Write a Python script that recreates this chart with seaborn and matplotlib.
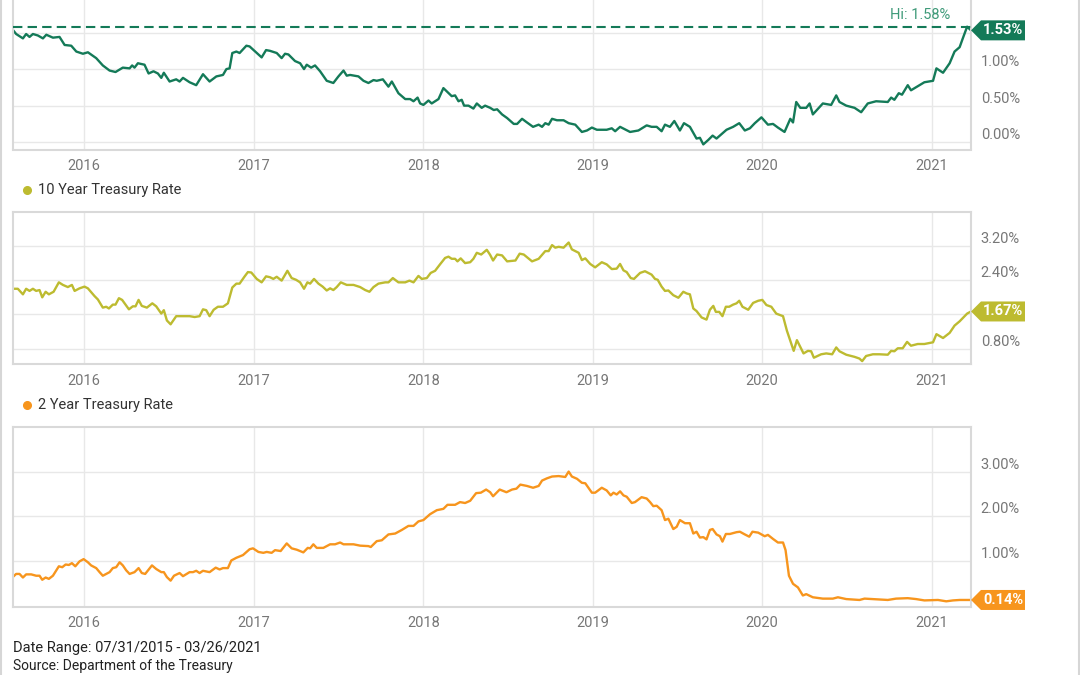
import matplotlib
matplotlib.use("Agg")
import matplotlib.pyplot as plt
import matplotlib.dates as mdates
import matplotlib.patches as mpatches
import matplotlib.lines as mlines
import seaborn as sns
import pandas as pd

# 10-2 year spread (decimal year, %)
spread_t = [2015.581, 2015.598, 2015.638, 2015.657, 2015.677, 2015.697, 2015.726, 2015.756, 2015.776, 2015.815,
            2015.854, 2015.884, 2015.923, 2015.953, 2015.992, 2016.022, 2016.071, 2016.110, 2016.150, 2016.185,
            2016.228, 2016.268, 2016.283, 2016.297, 2016.317, 2016.356, 2016.380, 2016.409, 2016.435, 2016.455,
            2016.470, 2016.504, 2016.543, 2016.563, 2016.583, 2016.622, 2016.661, 2016.701, 2016.740, 2016.780,
            2016.819, 2016.839, 2016.858, 2016.874, 2016.898, 2016.917, 2016.957, 2016.976, 2017.016, 2017.045,
            2017.071, 2017.094, 2017.134, 2017.163, 2017.183, 2017.203, 2017.242, 2017.272, 2017.295, 2017.311,
            2017.337, 2017.360, 2017.390, 2017.429, 2017.468, 2017.498, 2017.528, 2017.547, 2017.567, 2017.616,
            2017.646, 2017.675, 2017.705, 2017.724, 2017.760, 2017.793, 2017.813, 2017.852, 2017.892, 2017.921,
            2017.941, 2017.965, 2017.980, 2018.000, 2018.030, 2018.049, 2018.089, 2018.118, 2018.167, 2018.187,
            2018.207, 2018.226, 2018.240, 2018.266, 2018.295, 2018.315, 2018.344, 2018.364, 2018.394,
            2018.415, 2018.435, 2018.464, 2018.494, 2018.533, 2018.553, 2018.582, 2018.611, 2018.647, 2018.680,
            2018.700, 2018.719, 2018.739, 2018.759, 2018.788, 2018.827, 2018.857, 2018.896, 2018.935, 2018.965,
            2018.994, 2019.024, 2019.082, 2019.112, 2019.132, 2019.161, 2019.220, 2019.269, 2019.318, 2019.347,
            2019.377, 2019.406, 2019.426, 2019.455, 2019.481, 2019.514, 2019.538, 2019.573, 2019.612, 2019.632,
            2019.652, 2019.681, 2019.707, 2019.730, 2019.789, 2019.828, 2019.864, 2019.897, 2019.927, 2019.956,
            2019.995, 2020.034, 2020.064, 2020.093, 2020.132, 2020.166, 2020.182, 2020.201, 2020.225, 2020.260,
            2020.280, 2020.299, 2020.358, 2020.407, 2020.437, 2020.456, 2020.496, 2020.545, 2020.584, 2020.623,
            2020.672, 2020.741, 2020.761, 2020.780, 2020.806, 2020.825, 2020.859, 2020.878, 2020.957, 2021.006,
            2021.026, 2021.065, 2021.104, 2021.133, 2021.163, 2021.180, 2021.207, 2021.230]
spread_v = [1.53, 1.48, 1.42, 1.48, 1.44, 1.48, 1.46, 1.42, 1.47, 1.43,
            1.44, 1.33, 1.32, 1.24, 1.21, 1.23, 1.15, 1.05, 0.98, 0.96,
            1.02, 1.01, 1.05, 1.02, 1.08, 1.06, 0.94, 0.97, 0.94, 0.88,
            0.95, 0.83, 0.86, 0.83, 0.88, 0.82, 0.78, 0.93, 0.83, 0.90,
            0.92, 1.00, 1.01, 1.22, 1.24, 1.22, 1.32, 1.31, 1.22, 1.16,
            1.26, 1.25, 1.22, 1.15, 1.21, 1.20, 1.11, 1.08, 1.00, 1.06,
            1.02, 1.05, 0.97, 0.84, 0.81, 0.90, 0.98, 0.91, 0.92, 0.90,
            0.84, 0.81, 0.85, 0.84, 0.86, 0.76, 0.83, 0.67, 0.59, 0.59,
            0.56, 0.61, 0.53, 0.51, 0.57, 0.53, 0.59, 0.74, 0.63, 0.64,
            0.56, 0.58, 0.50, 0.50, 0.46, 0.53, 0.47, 0.50, 0.47,
            0.44, 0.45, 0.38, 0.33, 0.25, 0.25, 0.32, 0.27, 0.21, 0.24,
            0.21, 0.26, 0.24, 0.32, 0.30, 0.30, 0.26, 0.24, 0.14, 0.16,
            0.20, 0.17, 0.17, 0.19, 0.15, 0.21, 0.14, 0.16, 0.23, 0.21,
            0.21, 0.15, 0.24, 0.21, 0.29, 0.16, 0.26, 0.21, 0.05, 0.06,
            -0.03, 0.03, 0.09, 0.05, 0.17, 0.21, 0.26, 0.16, 0.19, 0.26,
            0.34, 0.24, 0.25, 0.20, 0.14, 0.32, 0.27, 0.55, 0.47, 0.47,
            0.53, 0.38, 0.53, 0.51, 0.64, 0.55, 0.50, 0.47, 0.41, 0.53,
            0.56, 0.55, 0.61, 0.58, 0.67, 0.65, 0.78, 0.71, 0.82, 0.84,
            1.01, 0.95, 1.08, 1.24, 1.30, 1.41, 1.58, 1.53]

# 10 year treasury rate
ten_t = [2015.581, 2015.608, 2015.638, 2015.657, 2015.677, 2015.697, 2015.716, 2015.736, 2015.752, 2015.772,
         2015.791, 2015.819, 2015.850, 2015.874, 2015.903, 2015.927, 2015.943, 2015.972, 2016.002, 2016.022,
         2016.061, 2016.081, 2016.110, 2016.130, 2016.146, 2016.169, 2016.185, 2016.205, 2016.224, 2016.264,
         2016.287, 2016.303, 2016.321, 2016.340, 2016.370, 2016.402, 2016.425, 2016.455, 2016.470, 2016.488,
         2016.510, 2016.543, 2016.583, 2016.622, 2016.652, 2016.681, 2016.701, 2016.720, 2016.740, 2016.764,
         2016.789, 2016.819, 2016.848, 2016.874, 2016.898, 2016.917, 2016.947, 2016.966, 2016.986, 2017.016,
         2017.045, 2017.071, 2017.094, 2017.114, 2017.134, 2017.163, 2017.197, 2017.222, 2017.248, 2017.272,
         2017.295, 2017.315, 2017.331, 2017.354, 2017.380, 2017.405, 2017.429, 2017.449, 2017.468, 2017.488,
         2017.512, 2017.547, 2017.587, 2017.626, 2017.656, 2017.681, 2017.705, 2017.734, 2017.774, 2017.793,
         2017.819, 2017.852, 2017.892, 2017.917, 2017.941, 2017.970, 2017.990, 2018.020, 2018.043, 2018.069,
         2018.098, 2018.128, 2018.148, 2018.167, 2018.187, 2018.201, 2018.220, 2018.246, 2018.276, 2018.295,
         2018.315, 2018.341, 2018.374, 2018.394,
         2018.411, 2018.435, 2018.464, 2018.494, 2018.543, 2018.568, 2018.592, 2018.641, 2018.680, 2018.719,
         2018.739, 2018.759, 2018.778, 2018.798, 2018.827, 2018.857, 2018.876, 2018.916, 2018.935, 2018.955,
         2018.984, 2019.014, 2019.053, 2019.082, 2019.112, 2019.141, 2019.161, 2019.181, 2019.200, 2019.224,
         2019.243, 2019.279, 2019.308, 2019.347, 2019.367, 2019.383, 2019.406, 2019.426, 2019.446, 2019.475,
         2019.505, 2019.534, 2019.554, 2019.573, 2019.593, 2019.612, 2019.642, 2019.671, 2019.691, 2019.711,
         2019.726, 2019.746, 2019.765, 2019.785, 2019.805, 2019.828, 2019.848, 2019.864, 2019.883, 2019.917,
         2019.946, 2019.976, 2020.001, 2020.025, 2020.054, 2020.083, 2020.123, 2020.146, 2020.186, 2020.205,
         2020.244, 2020.270, 2020.289, 2020.305, 2020.348, 2020.378, 2020.413, 2020.437, 2020.456, 2020.496,
         2020.545, 2020.574, 2020.590, 2020.613, 2020.653, 2020.692, 2020.741, 2020.761, 2020.780, 2020.800,
         2020.829, 2020.855, 2020.878, 2020.918, 2020.957, 2021.006, 2021.026, 2021.065, 2021.104, 2021.133,
         2021.163, 2021.180, 2021.207, 2021.230]
ten_v = [2.20, 2.20, 2.07, 2.20, 2.15, 2.20, 2.15, 2.17, 2.00, 2.13,
         2.07, 2.13, 2.35, 2.29, 2.24, 2.29, 2.15, 2.21, 2.25, 2.21,
         2.03, 1.95, 1.76, 1.78, 1.74, 1.83, 1.83, 1.98, 1.94, 1.72,
         1.79, 1.79, 1.94, 1.80, 1.76, 1.86, 1.79, 1.62, 1.70, 1.46,
         1.37, 1.56, 1.56, 1.56, 1.54, 1.56, 1.72, 1.70, 1.56, 1.71,
         1.78, 1.78, 1.86, 2.23, 2.32, 2.32, 2.49, 2.59, 2.58, 2.43,
         2.35, 2.49, 2.47, 2.43, 2.48, 2.39, 2.62, 2.45, 2.41, 2.35,
         2.20, 2.35, 2.32, 2.43, 2.32, 2.25, 2.16, 2.21, 2.17, 2.24,
         2.35, 2.29, 2.29, 2.24, 2.17, 2.13, 2.24, 2.32, 2.35, 2.35,
         2.45, 2.35, 2.35, 2.39, 2.35, 2.50, 2.43, 2.45, 2.57, 2.62,
         2.77, 2.92, 2.95, 2.90, 2.90, 2.84, 2.91, 2.80, 2.82, 2.90,
         3.04, 3.00, 3.11, 2.99,
         2.86, 3.00, 2.98, 2.84, 2.86, 3.02, 3.00, 2.84, 2.90, 3.08,
         3.08, 3.22, 3.16, 3.18, 3.16, 3.28, 3.12, 3.04, 2.87, 2.91,
         2.78, 2.70, 2.82, 2.77, 2.66, 2.67, 2.78, 2.63, 2.59, 2.45,
         2.43, 2.57, 2.61, 2.53, 2.43, 2.41, 2.25, 2.15, 2.16, 2.05,
         1.99, 2.13, 2.09, 2.07, 1.74, 1.68, 1.53, 1.48, 1.71, 1.80,
         1.66, 1.66, 1.56, 1.78, 1.78, 1.83, 1.86, 1.92, 1.78, 1.71,
         1.87, 1.92, 1.94, 1.82, 1.78, 1.62, 1.56, 1.22, 0.75, 1.00,
         0.69, 0.75, 0.74, 0.59, 0.67, 0.69, 0.67, 0.83, 0.74, 0.66,
         0.61, 0.57, 0.51, 0.63, 0.67, 0.67, 0.66, 0.75, 0.74, 0.81,
         0.81, 0.96, 0.87, 0.91, 0.91, 0.95, 1.14, 1.05, 1.17, 1.34,
         1.44, 1.51, 1.62, 1.67]

# 2 year treasury rate
two_t = [2015.581, 2015.598, 2015.618, 2015.638, 2015.657, 2015.687, 2015.716, 2015.736, 2015.752, 2015.772,
         2015.791, 2015.815, 2015.850, 2015.870, 2015.890, 2015.909, 2015.927, 2015.947, 2015.972, 2015.996,
         2016.022, 2016.041, 2016.071, 2016.091, 2016.110, 2016.150, 2016.169, 2016.189, 2016.209, 2016.228,
         2016.248, 2016.268, 2016.297, 2016.321, 2016.340, 2016.360, 2016.400, 2016.425, 2016.455, 2016.470,
         2016.488, 2016.510, 2016.530, 2016.563, 2016.583, 2016.622, 2016.642, 2016.661, 2016.681, 2016.701,
         2016.740, 2016.776, 2016.799, 2016.819, 2016.848, 2016.868, 2016.898, 2016.937, 2016.976, 2016.996,
         2017.026, 2017.055, 2017.075, 2017.104, 2017.124, 2017.157, 2017.193, 2017.222, 2017.252, 2017.291,
         2017.317, 2017.331, 2017.350, 2017.370, 2017.409, 2017.449, 2017.478, 2017.508, 2017.528, 2017.587,
         2017.626, 2017.675, 2017.689, 2017.724, 2017.754, 2017.793, 2017.833, 2017.872, 2017.911, 2017.941,
         2017.970, 2018.000, 2018.039, 2018.079, 2018.118, 2018.142, 2018.187, 2018.216, 2018.246, 2018.276,
         2018.311, 2018.339, 2018.370, 2018.394,
         2018.411, 2018.450, 2018.490, 2018.523, 2018.549, 2018.572, 2018.611, 2018.647, 2018.680, 2018.700,
         2018.729, 2018.759, 2018.798, 2018.837, 2018.857, 2018.876, 2018.906, 2018.935, 2018.955, 2018.994,
         2019.014, 2019.053, 2019.082, 2019.106, 2019.122, 2019.141, 2019.161, 2019.181, 2019.200, 2019.230,
         2019.249, 2019.288, 2019.318, 2019.338, 2019.357, 2019.377, 2019.406, 2019.426, 2019.446, 2019.475,
         2019.495, 2019.514, 2019.544, 2019.573, 2019.593, 2019.612, 2019.632, 2019.652, 2019.671, 2019.691,
         2019.707, 2019.730, 2019.750, 2019.765, 2019.785, 2019.809, 2019.848, 2019.868, 2019.897, 2019.923,
         2019.942, 2019.976, 2020.015, 2020.034, 2020.064, 2020.093, 2020.123, 2020.138, 2020.158, 2020.182,
         2020.211, 2020.240, 2020.260, 2020.299, 2020.358, 2020.417, 2020.447, 2020.496, 2020.574, 2020.604,
         2020.692, 2020.741, 2020.790, 2020.859, 2020.908, 2020.957, 2021.035, 2021.084, 2021.124, 2021.163,
         2021.230]
two_v = [0.66, 0.72, 0.72, 0.64, 0.71, 0.71, 0.68, 0.68, 0.59, 0.64,
         0.61, 0.68, 0.89, 0.87, 0.93, 0.92, 0.96, 0.89, 1.00, 1.05,
         0.98, 0.91, 0.85, 0.76, 0.68, 0.76, 0.85, 0.87, 0.98, 0.91,
         0.80, 0.72, 0.76, 0.85, 0.74, 0.72, 0.91, 0.83, 0.76, 0.76,
         0.65, 0.57, 0.68, 0.74, 0.67, 0.76, 0.76, 0.79, 0.74, 0.79,
         0.76, 0.86, 0.82, 0.85, 0.85, 1.02, 1.08, 1.14, 1.27, 1.29,
         1.21, 1.19, 1.21, 1.19, 1.25, 1.23, 1.40, 1.29, 1.26, 1.20,
         1.30, 1.29, 1.38, 1.30, 1.30, 1.38, 1.38, 1.42, 1.38, 1.38,
         1.35, 1.34, 1.32, 1.45, 1.47, 1.60, 1.62, 1.70, 1.79, 1.79,
         1.89, 1.92, 2.05, 2.14, 2.17, 2.26, 2.26, 2.32, 2.30, 2.35,
         2.52, 2.53, 2.60, 2.54,
         2.45, 2.60, 2.54, 2.60, 2.62, 2.71, 2.68, 2.64, 2.68, 2.80,
         2.85, 2.89, 2.90, 2.88, 3.00, 2.89, 2.84, 2.75, 2.74, 2.53,
         2.53, 2.64, 2.58, 2.47, 2.53, 2.49, 2.56, 2.47, 2.44, 2.30,
         2.32, 2.43, 2.40, 2.32, 2.23, 2.24, 2.14, 1.92, 1.95, 1.72,
         1.77, 1.92, 1.85, 1.85, 1.62, 1.66, 1.53, 1.54, 1.49, 1.70,
         1.72, 1.60, 1.56, 1.44, 1.61, 1.61, 1.65, 1.66, 1.60, 1.55,
         1.66, 1.64, 1.56, 1.59, 1.50, 1.42, 1.42, 1.25, 0.68, 0.50,
         0.42, 0.24, 0.27, 0.20, 0.17, 0.17, 0.20, 0.16, 0.14, 0.17,
         0.15, 0.14, 0.17, 0.18, 0.16, 0.13, 0.14, 0.11, 0.13, 0.14,
         0.14]

start_date = "2015-07-31"
end_date = "2021-03-26"
spread_hi = 1.58


def to_dates(ts):
    out = []
    for t in ts:
        y = int(t)
        out.append(pd.Timestamp(y, 1, 1) + pd.Timedelta(days=(t - y) * 365.25))
    return out


sns.set_style("white")
plt.rcParams["font.family"] = ["Liberation Sans Narrow", "Roboto", "DejaVu Sans"]

GREEN = "#147a58"
OLIVE = "#bdbb30"
ORANGE = "#f7951d"
GRID = "#e8e8e8"
TICK = "#777777"

W, H = 1080, 675
fig = plt.figure(figsize=(W / 100, H / 100), dpi=100)


def add_axes(top_px, bottom_px):
    left, right = 12.7, 971
    return fig.add_axes([left / W, 1 - bottom_px / H, (right - left) / W, (bottom_px - top_px) / H])


panels = [
    dict(t=spread_t, v=spread_v, color=GREEN, top=-4, bottom=149.5, ylim=(-0.1, 2.0),
         ticks=[0, 0.5, 1.0, 1.5], hide=1.5, label=None),
    dict(t=ten_t, v=ten_v, color=OLIVE, top=211.7, bottom=364, ylim=(0.443, 4.0),
         ticks=[0.8, 1.6, 2.4, 3.2], hide=1.6, label="10 Year Treasury Rate", label_y=190),
    dict(t=two_t, v=two_v, color=ORANGE, top=426.7, bottom=606.7, ylim=(-0.01, 4.0),
         ticks=[1.0, 2.0, 3.0], hide=None, label="2 Year Treasury Rate", label_y=405.5),
]

fig.canvas.draw()
for p in panels:
    ax = add_axes(p["top"], p["bottom"])
    sns.lineplot(x=to_dates(p["t"]), y=p["v"], ax=ax, color=p["color"], linewidth=1.7)
    ax.set_xlim(pd.Timestamp(start_date), pd.Timestamp(end_date))
    ax.set_ylim(*p["ylim"])
    ax.xaxis.set_major_locator(mdates.YearLocator())
    ax.xaxis.set_major_formatter(mdates.DateFormatter("%Y"))
    ax.yaxis.tick_right()
    ax.set_yticks(p["ticks"])
    ax.set_yticklabels(["" if p["hide"] is not None and abs(v - p["hide"]) < 1e-9 else f"{v:.2f}%"
                        for v in p["ticks"]])
    for lab in ax.get_yticklabels():
        lab.set_verticalalignment("bottom")
    ax.tick_params(axis="x", length=0, pad=7, labelsize=10.5, labelcolor=TICK)
    ax.tick_params(axis="y", length=0, pad=7, labelsize=10.5, labelcolor=TICK)
    ax.grid(True, color=GRID, linewidth=1)
    for s in ax.spines.values():
        s.set_color("#d9d9d9")
        s.set_linewidth(1.5)
    ax.set_xlabel("")
    ax.set_ylabel("")

    # value badge at the right end
    last = p["v"][-1]
    fig.canvas.draw()
    xr = ax.transAxes.transform((1, 0))[0]
    yv = ax.transData.transform((0, last))[1]
    h = 10
    badge = mpatches.Polygon([(xr, yv), (xr + 10, yv + h), (xr + 54, yv + h), (xr + 54, yv - h), (xr + 10, yv - h)],
                             closed=True, transform=None, facecolor=p["color"], edgecolor="none", zorder=5)
    fig.add_artist(badge)
    fig.text((xr + 32) / W, yv / H, f"{last:.2f}%", color="white", fontsize=10.5, fontweight="bold",
             ha="center", va="center", zorder=6)

    if p["label"] is None:
        ax.axhline(spread_hi, color=GREEN, linewidth=1.5, linestyle=(0, (4.5, 2.5)), zorder=3)
        fig.text(950 / W, 1 - 15 / H, f"Hi: {spread_hi:.2f}%", color="#3f9a79", fontsize=10.5,
                 ha="right", va="center")
    else:
        fig.add_artist(mlines.Line2D([26.5 / W], [1 - p["label_y"] / H], marker="o", markersize=5.5,
                                     color=p["color"], linestyle="none", transform=fig.transFigure))
        fig.text(38 / W, 1 - p["label_y"] / H, p["label"], color="#333333", fontsize=10.5,
                 ha="left", va="center")

fig.text(12.7 / W, 1 - 648 / H, f"Date Range: {pd.Timestamp(start_date):%m/%d/%Y} - {pd.Timestamp(end_date):%m/%d/%Y}",
         color="#222222", fontsize=10.5, ha="left", va="center")
fig.text(12.7 / W, 1 - 666 / H, "Source: Department of the Treasury", color="#222222", fontsize=10,
         ha="left", va="center")

# thin frame edges of the widget
for xpx in (1.0, 1079.0):
    fig.add_artist(mlines.Line2D([xpx / W, xpx / W], [0, 1], color="#d6d6d6", linewidth=1.5,
                                 transform=fig.transFigure))

fig.savefig("out.png", dpi=100)
